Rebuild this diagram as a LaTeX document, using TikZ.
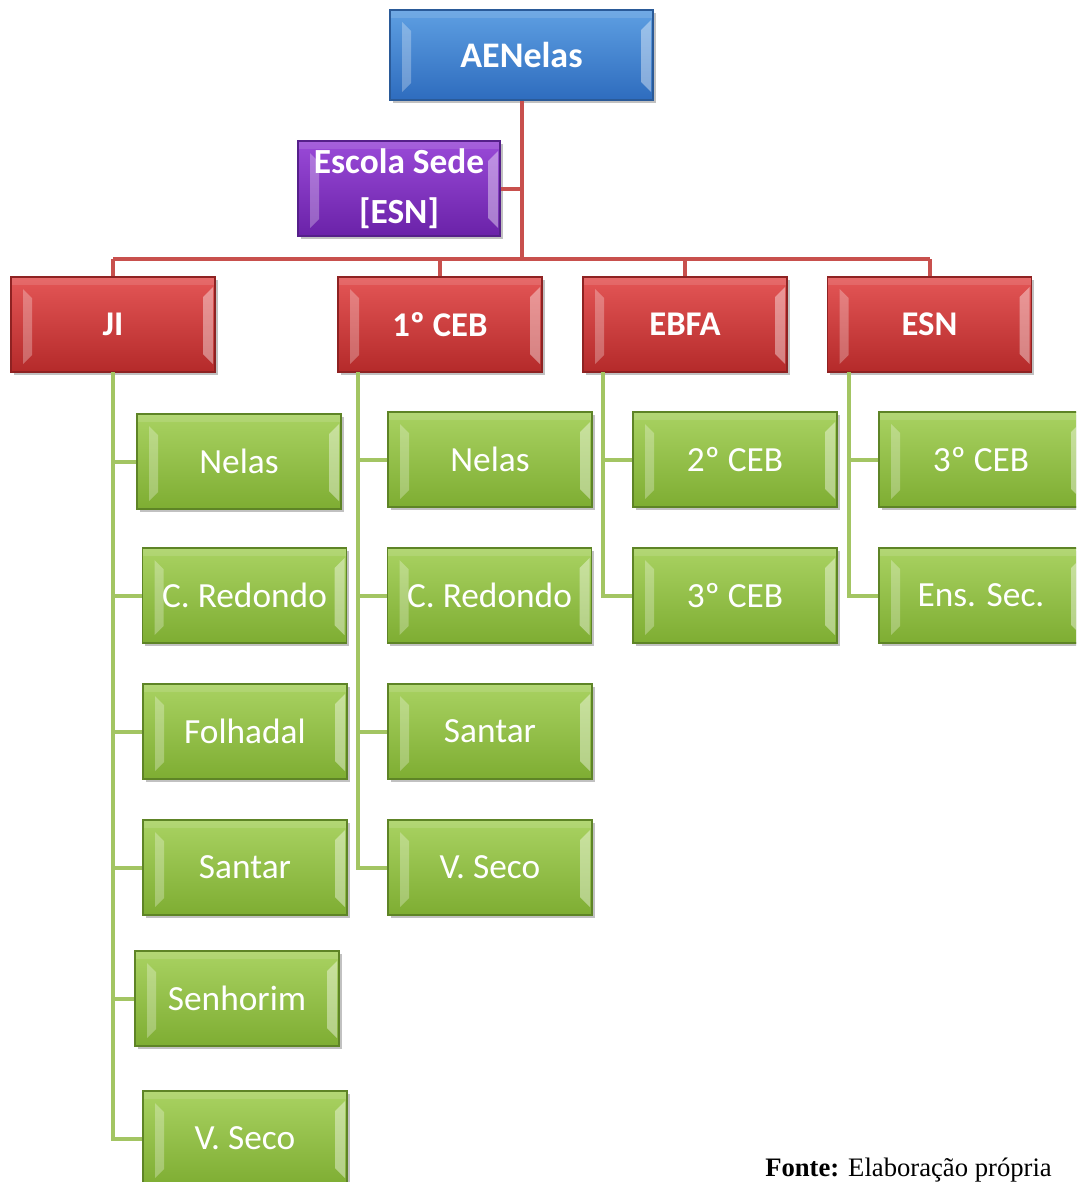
\documentclass[tikz,border=0pt]{standalone}
\usepackage{fontspec}
\setmainfont{Carlito}
\newfontfamily\timesf{Liberation Serif}
\usetikzlibrary{shadows,calc}
\definecolor{bluetop}{HTML}{5E9FE2}
\definecolor{bluebot}{HTML}{2E6CBE}
\definecolor{blueln}{HTML}{2A5A98}
\definecolor{purtop}{HTML}{9A4AD8}
\definecolor{purbot}{HTML}{6A22A8}
\definecolor{purln}{HTML}{55208A}
\definecolor{redtop}{HTML}{E45656}
\definecolor{redbot}{HTML}{B42A2A}
\definecolor{redln}{HTML}{8E2222}
\definecolor{grntop}{HTML}{A9D262}
\definecolor{grnbot}{HTML}{7EAD32}
\definecolor{grnln}{HTML}{5E8426}
\definecolor{redwire}{HTML}{C8504D}
\definecolor{grnwire}{HTML}{A3C563}
\tikzset{
  bevel/.style={
    path picture={
      \fill[white,opacity=0.28]
        ($(path picture bounding box.north west)+(12,12)$) --
        ($(path picture bounding box.north west)+(21,21)$) --
        ($(path picture bounding box.south west)+(21,-17)$) --
        ($(path picture bounding box.south west)+(12,-8)$) -- cycle;
      \fill[white,opacity=0.4]
        ($(path picture bounding box.north east)+(-2,10)$) --
        ($(path picture bounding box.north east)+(-12,20)$) --
        ($(path picture bounding box.south east)+(-12,-18)$) --
        ($(path picture bounding box.south east)+(-2,-8)$) -- cycle;
      \fill[white,opacity=0.12]
        (path picture bounding box.north west) rectangle
        ($(path picture bounding box.north east)+(0,8)$);
    }},
  boxbase/.style={rectangle, bevel, text=white, line width=0.8pt,
    drop shadow={shadow xshift=2pt, shadow yshift=-2.5pt, opacity=0.35, fill=black!70},
    inner sep=0pt, align=center},
  bluebox/.style={boxbase, top color=bluetop, bottom color=bluebot, draw=blueln,
    minimum width=197.25pt, minimum height=67.5pt, font=\bfseries\fontsize{27}{32}\selectfont},
  purbox/.style={boxbase, top color=purtop, bottom color=purbot, draw=purln,
    minimum width=151.5pt, minimum height=71.25pt, font=\bfseries\fontsize{26.5}{37.5}\selectfont},
  redbox/.style={boxbase, top color=redtop, bottom color=redbot, draw=redln,
    minimum width=153pt, minimum height=71.25pt, font=\bfseries\fontsize{26}{30}\selectfont},
  grnbox/.style={boxbase, top color=grntop, bottom color=grnbot, draw=grnln,
    minimum width=153pt, minimum height=71.25pt, font=\fontsize{26.5}{30}\selectfont},
  redwireline/.style={draw=redwire, line width=3pt},
  grnwireline/.style={draw=grnwire, line width=3pt},
}
\begin{document}
\begin{tikzpicture}[x=0.75pt,y=-0.75pt]
\useasboundingbox (0,0) rectangle (1076,1182);
\clip (0,0) rectangle (1076,1182);
% top
\node[bluebox] (top) at (521.5,55) {AENelas};
\node[purbox] (esc) at (399,188.5) {Escola Sede\\{[ESN]}};
\node[redbox] (ji) at (113,324.5) {JI};
\node[redbox] (ceb) at (440,324.5) {1º CEB};
\node[redbox] (ebfa) at (685,324.5) {EBFA};
\node[redbox] (esn) at (929.5,324.5) {ESN};
\coordinate (bus) at (521.5,259);
% red connectors
\draw[redwireline] (top.south) -- (top.south |- bus);
\draw[redwireline] (esc.east) -- (esc.east -| top.south);
\draw[redwireline] (ji.north |- bus) -- (esn.north |- bus);
\foreach \n in {ji,ceb,ebfa,esn} \draw[redwireline] (\n.north |- bus) -- (\n.north);
% green spines
\coordinate (jisp) at (113,372);
\coordinate (cesp) at (358,372);
\coordinate (ebsp) at (603,372);
\coordinate (essp) at (849,372);
% JI children
\node[grnbox] (jn) at (239,461.5) {Nelas};
\node[grnbox] (jc) at (244.5,595.5) {C. Redondo};
\node[grnbox] (jf) at (245,731.5) {Folhadal};
\node[grnbox] (js) at (245,867.5) {Santar};
\node[grnbox] (jh) at (237,998.5) {Senhorim};
\node[grnbox] (jv) at (245,1138.5) {V. Seco};
% 1 CEB children
\node[grnbox] (cn) at (490,459.5) {Nelas};
\node[grnbox] (cc) at (489.5,595.5) {C. Redondo};
\node[grnbox] (cs) at (490,731.5) {Santar};
\node[grnbox] (cv) at (490,867.5) {V. Seco};
% EBFA children
\node[grnbox] (e2) at (735,459.5) {2º CEB};
\node[grnbox] (e3) at (735,595.5) {3º CEB};
% ESN children
\node[grnbox] (s3) at (981,459.5) {3º CEB};
\node[grnbox] (ss) at (981,595.5) {Ens. Sec.};
% green connectors
\draw[grnwireline] (jisp) -- (jisp |- jv.west) -- (jv.west);
\foreach \n in {jn,jc,jf,js,jh} \draw[grnwireline] (jisp |- \n.west) -- (\n.west);
\draw[grnwireline] (cesp) -- (cesp |- cv.west) -- (cv.west);
\foreach \n in {cn,cc,cs} \draw[grnwireline] (cesp |- \n.west) -- (\n.west);
\draw[grnwireline] (ebsp) -- (ebsp |- e3.west) -- (e3.west);
\draw[grnwireline] (ebsp |- e2.west) -- (e2.west);
\draw[grnwireline] (essp) -- (essp |- ss.west) -- (ss.west);
\draw[grnwireline] (essp |- s3.west) -- (s3.west);
\node[anchor=base west, inner sep=0pt, font=\timesf\fontsize{20}{24}\selectfont] (fonte) at (765,1176) {\textbf{Fonte:} Elaboração própria};
\end{tikzpicture}
\end{document}
